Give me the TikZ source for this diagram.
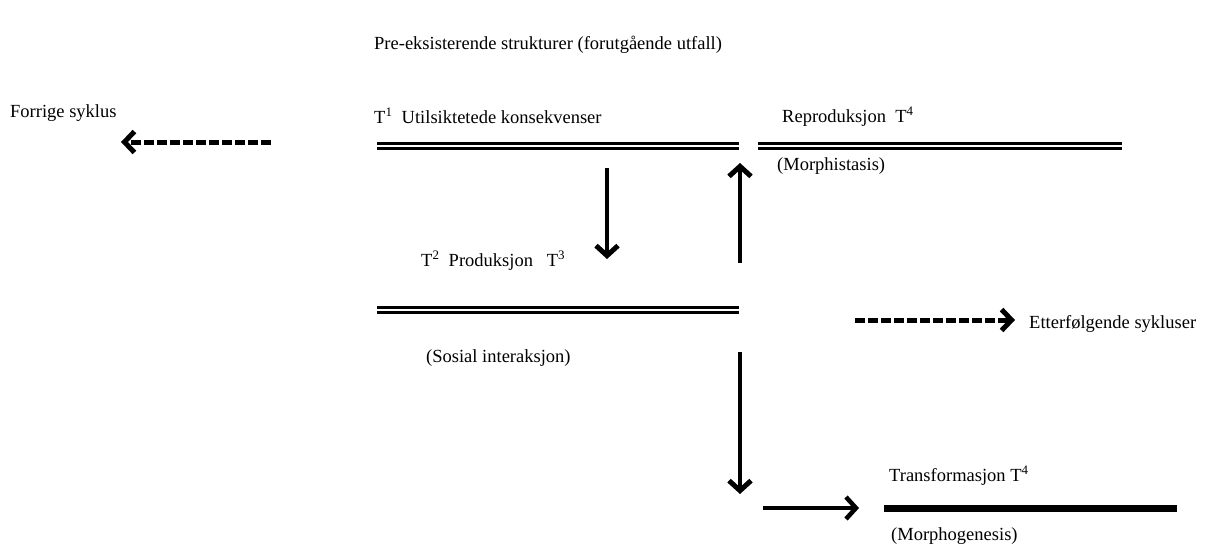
\documentclass[tikz,border=0pt]{standalone}
\usepackage{fontspec}
\setmainfont{Liberation Serif}
\usetikzlibrary{arrows.meta}
\begin{document}
\begin{tikzpicture}[x=1pt,y=-1pt,
  lbl/.style={anchor=base west,inner sep=0pt,font=\fontsize{18.5}{20}\selectfont},
  dbl/.style={line width=3.5pt,double=white,double distance=1.2pt},
  bar/.style={line width=7pt},
  arr/.style={line width=4.5pt,-{Straight Barb[length=10pt,width=22pt,line width=5pt]}},
  darr/.style={line width=5pt,dash pattern=on 10pt off 3pt,-{Straight Barb[length=10pt,width=21pt,line width=5pt]}}]
\useasboundingbox (0,0) rectangle (1206,549);
% texts
\node[lbl] (pre) at (374,49) {Pre-eksisterende strukturer (forutgående utfall)};
\node[lbl] (forr) at (10,117) {Forrige syklus};
\node[lbl] (t1) at (374,123) {T\textsuperscript{1}\ \ Utilsiktetede konsekvenser};
\node[lbl] (rep) at (782,122) {Reproduksjon\ \ T\textsuperscript{4}};
\node[lbl] (morphi) at (777,170) {(Morphistasis)};
\node[lbl] (t2) at (421,266) {T\textsuperscript{2}\ \ Produksjon\ \ \ T\textsuperscript{3}};
\node[lbl] (sos) at (426,362) {(Sosial interaksjon)};
\node[lbl] (etter) at (1029,328) {Etterfølgende sykluser};
\node[lbl] (trans) at (889,481) {Transformasjon T\textsuperscript{4}};
\node[lbl] (morphg) at (891,540) {(Morphogenesis)};
% coordinates
\coordinate (l1a) at (377,146); \coordinate (l1b) at (739,146);
\coordinate (l2a) at (758,146); \coordinate (l2b) at (1122,146);
\coordinate (l3a) at (377,310); \coordinate (l3b) at (739,310);
\coordinate (l4a) at (884,508); \coordinate (l4b) at (1177,508);
\coordinate (dls) at (271,142); \coordinate (dle) at (121,142);
\coordinate (drs) at (855,320); \coordinate (dre) at (1015,320);
\coordinate (d1s) at (607,168); \coordinate (d1e) at (607,259);
\coordinate (u1s) at (740,263); \coordinate (u1e) at (740,163);
\coordinate (d2s) at (740,352); \coordinate (d2e) at (740,494);
\coordinate (r1s) at (763,508); \coordinate (r1e) at (859,508);
% lines
\draw[dbl] (l1a) -- (l1b);
\draw[dbl] (l2a) -- (l2b);
\draw[dbl] (l3a) -- (l3b);
\draw[bar] (l4a) -- (l4b);
% arrows
\draw[darr] (dls) -- (dle);
\draw[darr] (drs) -- (dre);
\draw[arr] (d1s) -- (d1e);
\draw[arr] (u1s) -- (u1e);
\draw[arr] (d2s) -- (d2e);
\draw[line width=4pt,-{Straight Barb[length=10pt,width=22pt,line width=4.5pt]}] (r1s) -- (r1e);
\end{tikzpicture}
\end{document}
